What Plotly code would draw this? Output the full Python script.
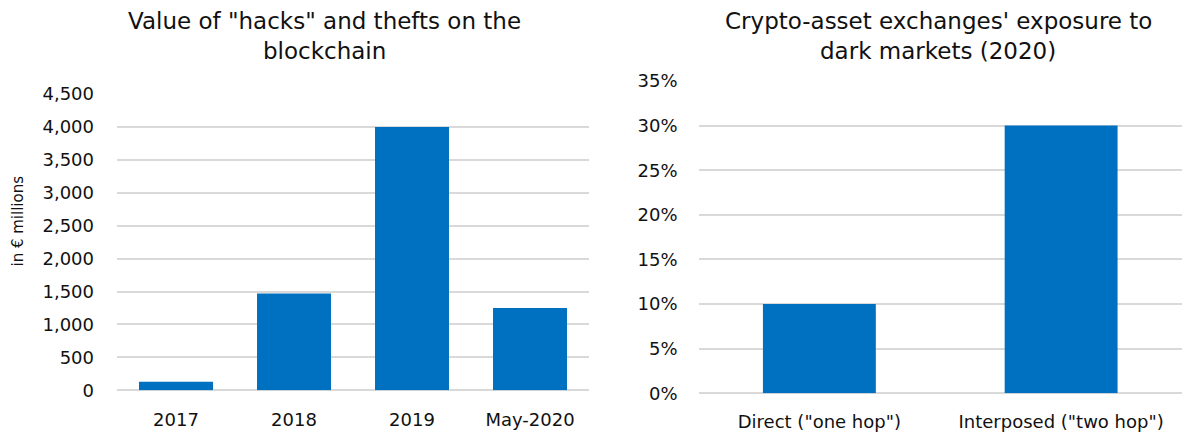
import plotly.graph_objects as go

W, H = 1182, 437

# Data
hack_years = ["2017", "2018", "2019", "May-2020"]
hack_values = [130, 1470, 4000, 1250]  # EUR millions

exposure_cats = ['Direct ("one hop")', 'Interposed ("two hop")']
exposure_values = [0.10, 0.30]

left_title = ['Value of "hacks" and thefts on the', 'blockchain']
right_title = ["Crypto-asset exchanges' exposure to", 'dark markets (2020)']
left_ylabel = "in € millions"

BLUE = "#0070C0"
GRID = "#d9d9d9"
FONT = "DejaVu Sans"


def px_x(p):
    return p / W


def px_y(p):
    return 1 - p / H


fig = go.Figure()
fig.add_trace(go.Bar(x=hack_years, y=hack_values, marker=dict(color=BLUE, line=dict(width=0)),
                     width=0.627, xaxis="x", yaxis="y", showlegend=False))
fig.add_trace(go.Bar(x=exposure_cats, y=exposure_values, marker=dict(color=BLUE, line=dict(width=0)),
                     width=0.467, xaxis="x2", yaxis="y2", showlegend=False))

tickfont = dict(family=FONT, size=18, color="#111")

fig.update_layout(
    width=W, height=H,
    margin=dict(l=0, r=0, t=0, b=0),
    paper_bgcolor="white", plot_bgcolor="white",
    font=dict(family=FONT, color="#111"),
    xaxis=dict(domain=[px_x(117), px_x(589)], anchor="y", showgrid=False, showline=False,
               automargin=False, ticks="", tickfont=tickfont, ticklabelstandoff=17),
    yaxis=dict(domain=[px_y(390.3), px_y(94)], anchor="x", range=[0, 4500], dtick=500,
               tickformat=",d", showgrid=True, gridcolor=GRID, gridwidth=1.5,
               zeroline=True, zerolinecolor=GRID, zerolinewidth=1.5, showline=False,
               automargin=False, ticks="", tickfont=tickfont, ticklabelstandoff=22),
    xaxis2=dict(domain=[px_x(698.5), 1.0], anchor="y2", showgrid=False, showline=False,
                automargin=False, ticks="", tickfont=tickfont, ticklabelstandoff=16),
    yaxis2=dict(domain=[px_y(393.3), px_y(81)], anchor="x2", range=[0, 0.35], dtick=0.05,
                tickformat=".0%", showgrid=True, gridcolor=GRID, gridwidth=1.5,
                zeroline=True, zerolinecolor=GRID, zerolinewidth=1.5, showline=False,
                automargin=False, ticks="", tickfont=tickfont, ticklabelstandoff=20),
)

titlefont = dict(family=FONT, size=23, color="#111")
ann = []
for i, line in enumerate(left_title):
    ann.append(dict(text=line, x=px_x(325), y=px_y([21, 51][i]), xref="paper", yref="paper",
                    xanchor="center", yanchor="middle", showarrow=False, font=titlefont))
for i, line in enumerate(right_title):
    ann.append(dict(text=line, x=px_x(938), y=px_y([21, 51][i]), xref="paper", yref="paper",
                    xanchor="center", yanchor="middle", showarrow=False, font=titlefont))
ann.append(dict(text=left_ylabel, x=px_x(17), y=px_y(221.5), xref="paper", yref="paper",
                xanchor="center", yanchor="middle", textangle=-90, showarrow=False,
                font=dict(family=FONT, size=15, color="#111")))
fig.update_layout(annotations=ann)

fig.write_html("out.html")
